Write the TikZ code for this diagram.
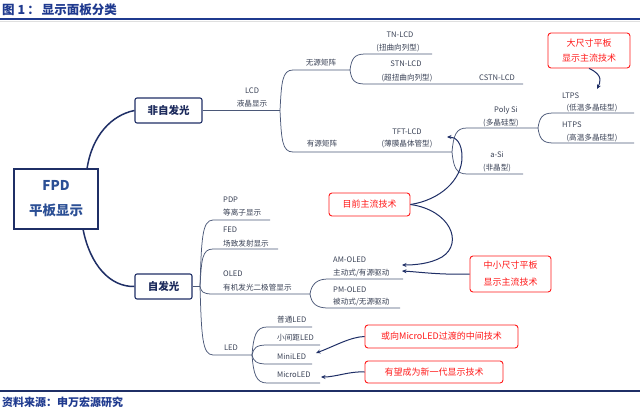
\documentclass[tikz,border=0pt]{standalone}
\usepackage{fontspec}
\setmainfont{Noto Sans CJK SC}
\usetikzlibrary{arrows.meta,calc}
\definecolor{navy}{HTML}{1F2F66}
\definecolor{brc}{HTML}{4B5878}
\definecolor{txc}{HTML}{3A4256}
\definecolor{hdr}{HTML}{1F3A8F}
\definecolor{rd}{HTML}{FF1A1A}
\definecolor{fpdtx}{HTML}{2B4F95}
\newcommand\mmbr[4]{\draw[br] (#1) .. controls +(1.5,#4) and +(-11,0) .. (#2) -- (#3);}
\begin{document}
\begin{tikzpicture}[x=1pt,y=-1pt,
  lbl/.style={font=\fontsize{7.6}{9}\selectfont, text=txc, inner sep=0, text height=0.88em, text depth=0.12em},
  lblw/.style={lbl, anchor=west},
  br/.style={draw=brc, line width=0.75pt},
  mainln/.style={draw=navy, line width=1.5pt},
  hub/.style={draw=navy, line width=1.1pt, rounded corners=2pt, fill=white, font=\fontsize{10.5}{12}\selectfont\bfseries, text=navy!90!black, inner sep=0},
  redbox/.style={draw=rd, line width=0.9pt, rounded corners=3pt, fill=white, text=rd, align=center, inner sep=0},
  note/.style={draw=navy, line width=1pt, -{Stealth[length=4.5pt,width=4pt]}}
]
\useasboundingbox[fill=white] (0,0) rectangle (640,412);

% header and footer
\node[anchor=west, inner sep=0, font=\fontsize{12.5}{14}\selectfont\bfseries, text=hdr] (title) at (2,10) {图 1\,：\,显示面板分类};
\draw[hdr, line width=1.4pt] (0,19) -- (640,19);
\draw[gray!25, line width=1pt] (0,21.3) -- (640,21.3);
\draw[navy, line width=1.2pt] (0,391) -- (640,391);
\node[anchor=west, inner sep=0, font=\fontsize{11}{13}\selectfont\bfseries, text=hdr] (src) at (2,402) {资料来源：申万宏源研究};

% main nodes
\node[draw=navy, line width=1.6pt, minimum width=84pt, minimum height=60pt, inner sep=0, align=center,
      font=\fontsize{13.5}{25}\selectfont\bfseries, text=fpdtx] (fpd) at (56,199) {FPD\\平板显示};
\node[hub, minimum width=67pt, minimum height=25pt] (nonself) at (168.5,110.5) {非自发光};
\node[hub, minimum width=57pt, minimum height=25pt] (self) at (163.5,286.5) {自发光};

\coordinate (fTop) at (87,169);
\coordinate (fBot) at (83,229);
\draw[mainln] (fTop) .. controls (92,135) and (112,115) .. (nonself.west);
\draw[mainln] (fBot) .. controls (90,265) and (110,287) .. (self.west);

% ---------- non-self branch ----------
\coordinate (jLCD) at (280,110.5);
\coordinate (sWY) at (293,70);   \coordinate (jWY) at (350,70);
\coordinate (sYY) at (293,152);  \coordinate (jYY) at (452,152);
\coordinate (sTN) at (365,54);   \coordinate (eTN) at (432,54);
\coordinate (sSTN) at (365,84);  \coordinate (eSTN) at (523,84);
\coordinate (sPoly) at (467,128); \coordinate (jPoly) at (538,128);
\coordinate (sASi) at (467,174); \coordinate (eASi) at (523,174);
\coordinate (sLT) at (553,113);  \coordinate (eLT) at (634,113);
\coordinate (sHT) at (553,143);  \coordinate (eHT) at (634,143);

\draw[br] (nonself.east) -- (jLCD);
\mmbr{jLCD}{sWY}{jWY}{-28}
\mmbr{jLCD}{sYY}{jYY}{29}
\mmbr{jWY}{sTN}{eTN}{-11}
\mmbr{jWY}{sSTN}{eSTN}{10}
\mmbr{jYY}{sPoly}{jPoly}{-17}
\mmbr{jYY}{sASi}{eASi}{15}
\mmbr{jPoly}{sLT}{eLT}{-10}
\mmbr{jPoly}{sHT}{eHT}{10}

\node[lbl] (tLCD) at (252,90) {LCD};
\node[lbl] (tLCD2) at (252,103) {液晶显示};
\node[lbl] (tWY) at (321,62) {无源矩阵};
\node[lbl] (tYY) at (322,143) {有源矩阵};
\node[lbl] (tTN) at (400,34) {TN-LCD};
\node[lbl] (tTN2) at (398,47) {(扭曲向列型)};
\node[lbl] (tSTN) at (406,63) {STN-LCD};
\node[lbl] (tSTN2) at (407,77) {(超扭曲向列型)};
\node[lbl] (tCSTN) at (497,77) {CSTN-LCD};
\node[lbl] (tTFT) at (407,131) {TFT-LCD};
\node[lbl] (tTFT2) at (407,143) {(薄膜晶体管型)};
\node[lbl] (tPoly) at (506,109) {Poly Si};
\node[lbl] (tPoly2) at (501,122) {(多晶硅型)};
\node[lbl] (tASi) at (497,154) {a-Si};
\node[lbl] (tASi2) at (497,167) {(非晶型)};
\node[lblw] (tLT) at (562,95) {LTPS};
\node[lbl] (tLT2) at (592,107) {(低温多晶硅型)};
\node[lblw] (tHT) at (562,124) {HTPS};
\node[lbl] (tHT2) at (592,137) {(高温多晶硅型)};

% ---------- self branch ----------
\coordinate (jSelf) at (200,286.5);
\coordinate (sPDP) at (213,220); \coordinate (ePDP) at (270,220);
\coordinate (sFED) at (213,249); \coordinate (eFED) at (278,249);
\coordinate (sOLED) at (213,294); \coordinate (jOLED) at (310,294);
\coordinate (sLED) at (213,355); \coordinate (jLED) at (252,355);
\coordinate (sAM) at (328,279); \coordinate (eAM) at (403,279);
\coordinate (sPM) at (328,308); \coordinate (ePM) at (400,308);
\coordinate (sPT) at (267,327); \coordinate (ePT) at (312,327);
\coordinate (sXJ) at (267,345); \coordinate (eXJ) at (320,345);
\coordinate (sMini) at (267,364); \coordinate (eMini) at (312,364);
\coordinate (sMicro) at (267,383); \coordinate (eMicro) at (320,383);

\draw[br] (self.east) -- (jSelf);
\mmbr{jSelf}{sPDP}{ePDP}{-47}
\mmbr{jSelf}{sFED}{eFED}{-27}
\mmbr{jSelf}{sOLED}{jOLED}{5}
\mmbr{jSelf}{sLED}{jLED}{48}
\mmbr{jOLED}{sAM}{eAM}{-10}
\mmbr{jOLED}{sPM}{ePM}{10}
\mmbr{jLED}{sPT}{ePT}{-19}
\mmbr{jLED}{sXJ}{eXJ}{-7}
\mmbr{jLED}{sMini}{eMini}{6}
\mmbr{jLED}{sMicro}{eMicro}{19}

\node[lblw] (tPDP) at (223,199) {PDP};
\node[lblw] (tPDP2) at (223,212) {等离子显示};
\node[lblw] (tFED) at (223,229) {FED};
\node[lblw] (tFED2) at (223,243) {场致发射显示};
\node[lblw] (tOLED) at (223,273) {OLED};
\node[lblw] (tOLED2) at (223,287) {有机发光二极管显示};
\node[lblw] (tAM) at (333,259) {AM-OLED};
\node[lblw] (tAM2) at (333,272) {主动式/有源驱动};
\node[lblw] (tPM) at (333,289) {PM-OLED};
\node[lblw] (tPM2) at (333,301) {被动式/无源驱动};
\node[lbl] (tLED) at (231,347) {LED};
\node[lblw] (tPT) at (277,319) {普通LED};
\node[lblw] (tXJ) at (277,337) {小间距LED};
\node[lblw] (tMini) at (277,356) {MiniLED};
\node[lblw] (tMicro) at (277,374) {MicroLED};

% ---------- notes ----------
\node[redbox, minimum width=82pt, minimum height=35pt, font=\fontsize{9}{15}\selectfont] (r1) at (589,50.5) {大尺寸平板\\显示主流技术};
\node[redbox, minimum width=81pt, minimum height=23pt, font=\fontsize{9}{11}\selectfont] (r2) at (369.5,204.5) {目前主流技术};
\node[redbox, minimum width=81pt, minimum height=36pt, font=\fontsize{9}{17}\selectfont] (r3) at (510.5,274) {中小尺寸平板\\显示主流技术};
\node[redbox, minimum width=153pt, minimum height=23pt, font=\fontsize{9}{11}\selectfont] (r4) at (441.5,336.5) {或向MicroLED过渡的中间技术};
\node[redbox, minimum width=138pt, minimum height=22pt, font=\fontsize{9}{11}\selectfont] (r5) at (434,372) {有望成为新一代显示技术};

\coordinate (aLT) at (597,89);
\coordinate (aTFT) at (447,137);
\coordinate (aAM1) at (402,265);
\coordinate (aAM2) at (402,271);
\coordinate (aMini) at (316,353);
\coordinate (aMicro) at (321,377);

\draw[note] (r1.south) .. controls (604,75) and (600,83) .. (aLT);
\draw[note] (r2.east) .. controls (440,200) and (462,180) .. (462,157) .. controls (462,143) and (456,137) .. (aTFT);
\draw[note] (r2.east) .. controls (450,210) and (464,243) .. (442,257) .. controls (430,264) and (414,265) .. (aAM1);
\draw[note] (r3.west) .. controls (440,275) and (420,272) .. (aAM2);
\draw[note] (r4.west) .. controls (350,337) and (335,346) .. (aMini);
\draw[note] (r5.west) .. controls (350,371) and (336,377) .. (aMicro);
\end{tikzpicture}
\end{document}
